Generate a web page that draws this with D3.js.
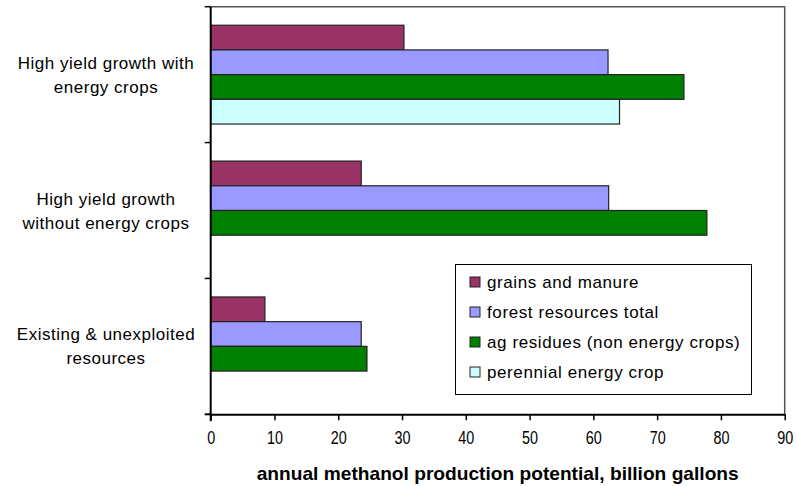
<!DOCTYPE html>
<html>
<head>
<meta charset="utf-8">
<script src="https://cdn.jsdelivr.net/npm/d3@7"></script>
<style>
  body { margin: 0; background: #fff; }
  text { font-family: "Liberation Sans", Arial, sans-serif; }
</style>
</head>
<body>
<script>
var categories = [
  ['High yield growth with', 'energy crops'],
  ['High yield growth', 'without energy crops'],
  ['Existing & unexploited', 'resources']
];
var seriesNames = ['grains and manure', 'forest resources total', 'ag residues (non energy crops)', 'perennial energy crop'];
var colors = ['#993366', '#9999ff', '#008000', '#ccffff'];
var grains = [30.3, 23.6, 8.5];
var forest = [62.3, 62.4, 23.6];
var agResidues = [74.2, 77.8, 24.5];
var perennial = [64.1, null, null];
var xTicks = [0, 10, 20, 30, 40, 50, 60, 70, 80, 90];

var series = [grains, forest, agResidues, perennial];

var svg = d3.select('body').append('svg').attr('width', 797).attr('height', 486);

var x = d3.scaleLinear().domain([0, 90]).range([210.7, 784.7]);
var y0 = d3.scaleBand().domain(d3.range(categories.length)).range([6.7, 414.3]);
var y1 = d3.scaleBand().domain(d3.range(series.length)).range([0, y0.bandwidth()]).paddingOuter(0.75);

// plot frame (top and right)
svg.append('path')
  .attr('d', 'M' + x(0) + ',' + y0.range()[0] + 'H' + x(90) + 'V' + y0.range()[1])
  .attr('fill', 'none').attr('stroke', '#555').attr('stroke-width', 1.5);

// bars
series.forEach(function(vals, s) {
  svg.selectAll('.bar' + s)
    .data(vals.map(function(v, i) { return {v: v, i: i}; }).filter(function(d) { return d.v != null; }))
    .enter().append('rect')
    .attr('x', x(0))
    .attr('y', function(d) { return y0(d.i) + y1(s); })
    .attr('width', function(d) { return x(d.v) - x(0); })
    .attr('height', y1.bandwidth())
    .attr('fill', colors[s])
    .attr('stroke', '#222')
    .attr('stroke-width', 1.2);
});

// x axis
var xAxis = svg.append('g')
  .attr('transform', 'translate(0,' + y0.range()[1] + ')')
  .call(d3.axisBottom(x).tickValues(xTicks).tickSize(6).tickSizeOuter(0).tickPadding(11));
xAxis.select('.domain').attr('stroke', '#000').attr('stroke-width', 2);
xAxis.selectAll('.tick line').attr('stroke', '#000').attr('stroke-width', 1.5);
xAxis.selectAll('.tick text')
  .attr('font-family', '"Liberation Sans", Arial, sans-serif')
  .attr('font-size', 18)
  .attr('fill', '#000')
  .attr('transform', 'scale(0.8,1)')
  .attr('x', 0);

// y axis line with category boundary ticks
svg.append('line')
  .attr('x1', x(0)).attr('x2', x(0))
  .attr('y1', y0.range()[0]).attr('y2', y0.range()[1] + 7)
  .attr('stroke', '#000').attr('stroke-width', 2);
svg.append('line')
  .attr('x1', x(0) - 6).attr('x2', x(0))
  .attr('y1', y0.range()[1]).attr('y2', y0.range()[1])
  .attr('stroke', '#000').attr('stroke-width', 2);
svg.selectAll('.ytick')
  .data(d3.range(categories.length))
  .enter().append('line')
  .attr('x1', x(0) - 6).attr('x2', x(0))
  .attr('y1', function(i) { return y0(i); })
  .attr('y2', function(i) { return y0(i); })
  .attr('stroke', '#000').attr('stroke-width', 1.5);

// category labels
var catLabels = svg.selectAll('.cat')
  .data(categories)
  .enter().append('text')
  .attr('text-anchor', 'middle')
  .attr('font-size', 17)
  .attr('letter-spacing', 0.5)
  .attr('fill', '#000');
catLabels.each(function(lines, i) {
  var t = d3.select(this);
  var cy = y0(i) + y0.bandwidth() / 2;
  lines.forEach(function(l, j) {
    t.append('tspan').attr('x', 106).attr('y', cy - 6 + j * 24).text(l);
  });
});

// axis title
svg.append('text')
  .attr('x', (x(0) + x(90)) / 2)
  .attr('y', 480)
  .attr('text-anchor', 'middle')
  .attr('font-size', 19)
  .attr('font-weight', 'bold')
  .attr('textLength', 482)
  .attr('lengthAdjust', 'spacingAndGlyphs')
  .text('annual methanol production potential, billion gallons');

// legend
var legend = svg.append('g');
legend.append('rect')
  .attr('x', 455.5).attr('y', 264.5).attr('width', 296).attr('height', 130)
  .attr('fill', '#fff').attr('stroke', '#000').attr('stroke-width', 1);
var items = legend.selectAll('.item')
  .data(seriesNames)
  .enter().append('g')
  .attr('transform', function(d, i) { return 'translate(470,' + (282 + i * 30) + ')'; });
items.append('rect')
  .attr('x', 0).attr('y', -5).attr('width', 10).attr('height', 10)
  .attr('fill', function(d, i) { return colors[i]; })
  .attr('stroke', '#222').attr('stroke-width', 1);
items.append('text')
  .attr('x', 17).attr('y', 0).attr('dy', '0.35em')
  .attr('font-size', 17)
  .attr('letter-spacing', 0.6)
  .attr('fill', '#000')
  .text(function(d) { return d; });
</script>
</body>
</html>
